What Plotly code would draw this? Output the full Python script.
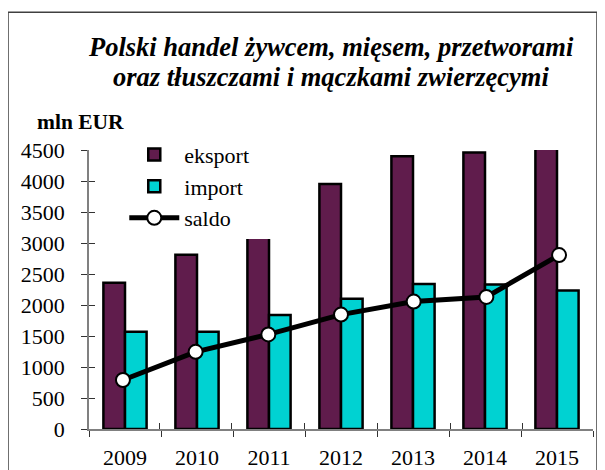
import plotly.graph_objects as go

years = ["2009", "2010", "2011", "2012", "2013", "2014", "2015"]
eksport = [2357, 2810, 3370, 3950, 4400, 4460, 5040]
imp = [1570, 1570, 1840, 2100, 2340, 2330, 2235]
saldo = [790, 1245, 1525, 1845, 2055, 2130, 2805]

y_ticks = [0, 500, 1000, 1500, 2000, 2500, 3000, 3500, 4000, 4500]

title_1 = "Polski handel żywcem, mięsem, przetworami"
title_2 = "oraz tłuszczami i mączkami zwierzęcymi"
unit = "mln EUR"

SERIF = "Liberation Serif"
AX_COL = "#808080"
PAD = "\u00a0\u00a0\u00a0\u00a0"

# page pixel -> paper coordinates (plot area spans x 89..593, y 150..429.3 on the page)
def px(x):
    return (x - 89) / 504

def py(y):
    return (429.3 - y) / 279.3

fig = go.Figure()
fig.add_trace(go.Bar(
    x=years, y=eksport, name="eksport" + PAD,
    marker=dict(color="#601C4C", line=dict(color="black", width=2.5)),
))
fig.add_trace(go.Bar(
    x=years, y=imp, name="import",
    marker=dict(color="#00D2D2", line=dict(color="black", width=2.5)),
))
fig.add_trace(go.Scatter(
    x=years, y=saldo, name="saldo", mode="lines+markers",
    line=dict(color="black", width=5),
    marker=dict(symbol="circle", size=14, color="white", line=dict(color="black", width=2)),
    xaxis="x2", yaxis="y2",
))

fig.update_layout(
    width=605, height=470,
    margin=dict(l=81, r=20, t=142, b=49),
    paper_bgcolor="white", plot_bgcolor="white",
    font=dict(family=SERIF, color="black"),
    barmode="group", bargap=0.40, bargroupgap=0,
    showlegend=True,
    legend=dict(
        x=0.07, y=1.058, xanchor="left", yanchor="top",
        bgcolor="white", borderwidth=0,
        font=dict(family=SERIF, size=22, color="black"),
        itemwidth=50,
    ),
    xaxis=dict(
        type="category", tickson="boundaries", ticks="outside", ticklen=6,
        tickwidth=1.2, tickcolor="#333333", automargin=False,
        showline=True, linecolor=AX_COL, linewidth=1.5, showgrid=False,
        tickfont=dict(family=SERIF, size=22, color="black"),
        ticklabelstandoff=8,
    ),
    yaxis=dict(
        range=[0, 4500], tickvals=y_ticks, ticks="outside", ticklen=6,
        tickwidth=1.2, tickcolor="#333333", automargin=False,
        showline=True, linecolor=AX_COL, linewidth=1.5, showgrid=False, zeroline=False,
        tickfont=dict(family=SERIF, size=22, color="black"),
        ticklabelstandoff=12,
    ),
    xaxis2=dict(
        type="category", overlaying="x", tickson="boundaries", ticks="inside", ticklen=6,
        tickwidth=1.2, tickcolor="#333333", showticklabels=False,
        showline=False, showgrid=False,
    ),
    yaxis2=dict(
        overlaying="y", range=[0, 4500], tickvals=y_ticks, ticks="inside", ticklen=6,
        tickwidth=1.2, tickcolor="#333333", showticklabels=False,
        showline=False, showgrid=False, zeroline=False,
    ),
    shapes=[dict(
        type="rect", xref="paper", yref="paper",
        x0=px(8), x1=px(597), y0=py(480), y1=py(12),
        line=dict(color="#404040", width=1.5), fillcolor="rgba(0,0,0,0)", layer="below",
    )],
    annotations=[
        dict(
            text="<b><i>" + title_1 + "</i></b>",
            xref="paper", yref="paper", x=px(331), y=py(47),
            xanchor="center", yanchor="middle", showarrow=False,
            font=dict(family=SERIF, size=26.5, color="black"),
        ),
        dict(
            text="<b><i>" + title_2 + "</i></b>",
            xref="paper", yref="paper", x=px(331), y=py(77),
            xanchor="center", yanchor="middle", showarrow=False,
            font=dict(family=SERIF, size=26.5, color="black"),
        ),
        dict(
            text="<b>" + unit + "</b>",
            xref="paper", yref="paper", x=px(35), y=py(122),
            xanchor="left", yanchor="middle", showarrow=False,
            font=dict(family=SERIF, size=21.5, color="black"),
        ),
    ],
)

fig.write_html("out.html")
